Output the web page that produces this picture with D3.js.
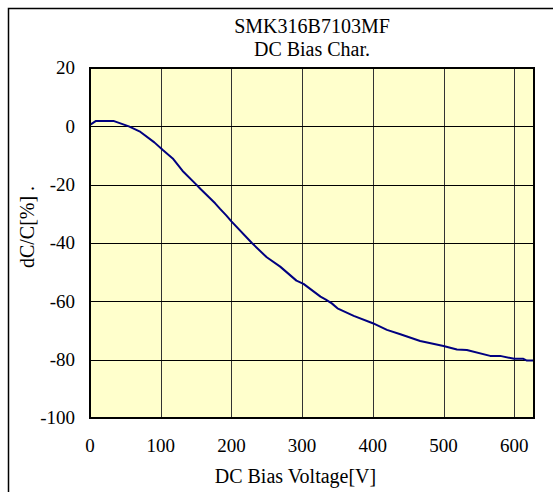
<!DOCTYPE html>
<html>
<head>
<meta charset="utf-8">
<script src="https://cdn.jsdelivr.net/npm/d3@7"></script>
<style>
  html, body { margin: 0; padding: 0; background: #ffffff; }
  svg { display: block; }
  text { font-family: "Liberation Serif", "Times New Roman", serif; fill: #000; }
</style>
</head>
<body>
<svg id="chart" width="553" height="492"></svg>
<script>
const titleLines = ["SMK316B7103MF", "DC Bias Char."];
const xTitle = "DC Bias Voltage[V]";
const yTitle = "dC/C[%] .";
const xTicks = [0, 100, 200, 300, 400, 500, 600];
const yTicks = [20, 0, -20, -40, -60, -80, -100];
const voltage = [0, 8, 34, 55, 70, 91, 103, 117, 131, 150, 156, 177, 184, 193, 200, 229, 250, 269, 292, 302, 326, 333, 342, 350, 373, 400, 420, 439, 467, 500, 519, 533, 566, 580, 600, 613, 618, 628];
const dcPercent = [0.5, 1.8, 1.8, 0, -1.7, -5.5, -8.1, -11, -15.3, -19.9, -21.4, -26.4, -28.3, -30.6, -32.6, -40, -44.9, -48.1, -52.9, -54, -58.4, -59.3, -60.7, -62.4, -65, -67.5, -69.8, -71.3, -73.6, -75.3, -76.5, -76.7, -78.7, -78.7, -79.7, -79.7, -80.3, -80.3];

const svg = d3.select("#chart");
const L = 90, R = 534, T = 68, B = 418;

const x = d3.scaleLinear().domain([0, 628]).range([L, R]);
const y = d3.scaleLinear().domain([-100, 20]).range([B, T]);

// outer frame (clipped on right/bottom)
svg.append("path")
  .attr("d", `M8.5,492 L8.5,8.5 L553,8.5`)
  .attr("fill", "none").attr("stroke", "#000").attr("stroke-width", 1.5);

// plot background
svg.append("rect").attr("x", L).attr("y", T).attr("width", R - L).attr("height", B - T)
  .attr("fill", "#FFFFCC");

// vertical gridlines
svg.append("g").selectAll("line").data(xTicks.filter(d => d > 0)).join("line")
  .attr("x1", d => Math.round(x(d)) + 0.5).attr("x2", d => Math.round(x(d)) + 0.5)
  .attr("y1", T).attr("y2", B)
  .attr("stroke", "#333").attr("stroke-width", 1);

// horizontal gridlines
svg.append("g").selectAll("line").data(yTicks.filter(d => d > -100 && d < 20)).join("line")
  .attr("x1", L).attr("x2", R)
  .attr("y1", d => Math.round(y(d)) + 0.5).attr("y2", d => Math.round(y(d)) + 0.5)
  .attr("stroke", "#000").attr("stroke-width", 1);

// curve
const line = d3.line().x((d, i) => x(voltage[i])).y(d => y(d));
svg.append("path").datum(dcPercent)
  .attr("d", line)
  .attr("fill", "none").attr("stroke", "#000080").attr("stroke-width", 2)
  .attr("stroke-linejoin", "round");

// plot frame
svg.append("rect").attr("x", L).attr("y", T).attr("width", R - L).attr("height", B - T)
  .attr("fill", "none").attr("stroke", "#000").attr("stroke-width", 2);

// y tick labels
svg.append("g").selectAll("text").data(yTicks).join("text")
  .attr("x", 75).attr("y", d => y(d))
  .attr("dy", "0.33em")
  .attr("text-anchor", "end")
  .style("font-size", "19px")
  .text(d => d);

// x tick labels
svg.append("g").selectAll("text").data(xTicks).join("text")
  .attr("x", d => x(d)).attr("y", 452)
  .attr("text-anchor", "middle")
  .style("font-size", "19px")
  .text(d => d);

// titles
svg.append("g").selectAll("text").data(titleLines).join("text")
  .attr("x", (L + R) / 2).attr("y", (d, i) => 33 + i * 23)
  .attr("text-anchor", "middle")
  .style("font-size", "20px")
  .text(d => d);

svg.append("text")
  .attr("x", 295.5).attr("y", 483)
  .attr("text-anchor", "middle")
  .style("font-size", "20px")
  .text(xTitle);

svg.append("text")
  .attr("transform", "translate(34,227) rotate(-90)")
  .attr("text-anchor", "middle")
  .style("font-size", "20px")
  .text(yTitle);
</script>
</body>
</html>
